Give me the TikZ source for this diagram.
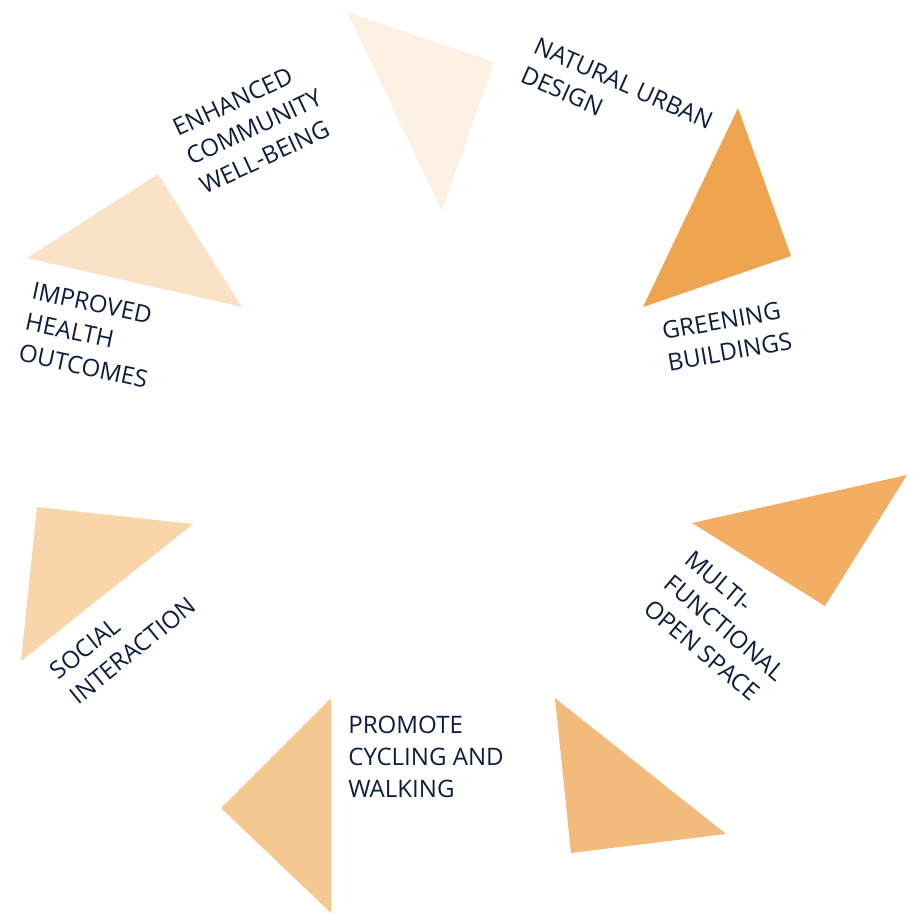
\documentclass[tikz,border=0pt]{standalone}
\usepackage{fontspec}
\setmainfont{Open Sans}
\usepackage{tikz}
\definecolor{navy}{HTML}{0E1C3F}
\definecolor{tri1}{HTML}{FDF1E4}
\definecolor{tri2}{HTML}{EFA54F}
\definecolor{tri3}{HTML}{F2AE62}
\definecolor{tri4}{HTML}{F2BB7C}
\definecolor{tri5}{HTML}{F6C891}
\definecolor{tri6}{HTML}{F8D6AA}
\definecolor{tri7}{HTML}{FAE2C6}
\tikzset{lbl/.style={text=navy, align=left, inner sep=0pt,
    font=\fontsize{13.7}{18.1}\selectfont}}

\begin{document}
\begin{tikzpicture}[x=0.02cm,y=-0.02cm]
\useasboundingbox (0,0) rectangle (917,914);
\fill[tri1] (347,12) -- (494,62) -- (442,211) -- cycle;
\fill[tri2] (738,108) -- (791,256) -- (643,307) -- cycle;
\fill[tri3] (907,475) -- (825,606) -- (692,523) -- cycle;
\fill[tri4] (555,698) -- (726,834) -- (571,853) -- cycle;
\fill[tri5] (331,698) -- (331,913) -- (221,808) -- cycle;
\fill[tri6] (37,507) -- (193,524) -- (21,661) -- cycle;
\fill[tri7] (158,174) -- (242,307) -- (27,258) -- cycle;

\node[lbl, rotate=25] (wellbeing) at (254,127) {ENHANCED\\COMMUNITY\\WELL-BEING};
\node[lbl, rotate=-24] (urban) at (617,98) {NATURAL URBAN\\DESIGN};
\node[lbl, rotate=10] (greening) at (727,336) {GREENING\\BUILDINGS};
\node[lbl, rotate=-40] (openspace) at (725,628) {MULTI-\\FUNCTIONAL\\OPEN SPACE};
\node[lbl, anchor=north west] (cycling) at (348,716) {PROMOTE\\CYCLING AND\\WALKING};
\node[lbl, rotate=39] (social) at (123,638) {SOCIAL\\INTERACTION};
\node[lbl, rotate=-12] (health) at (90,335) {IMPROVED\\HEALTH\\OUTCOMES};
\end{tikzpicture}
\end{document}
